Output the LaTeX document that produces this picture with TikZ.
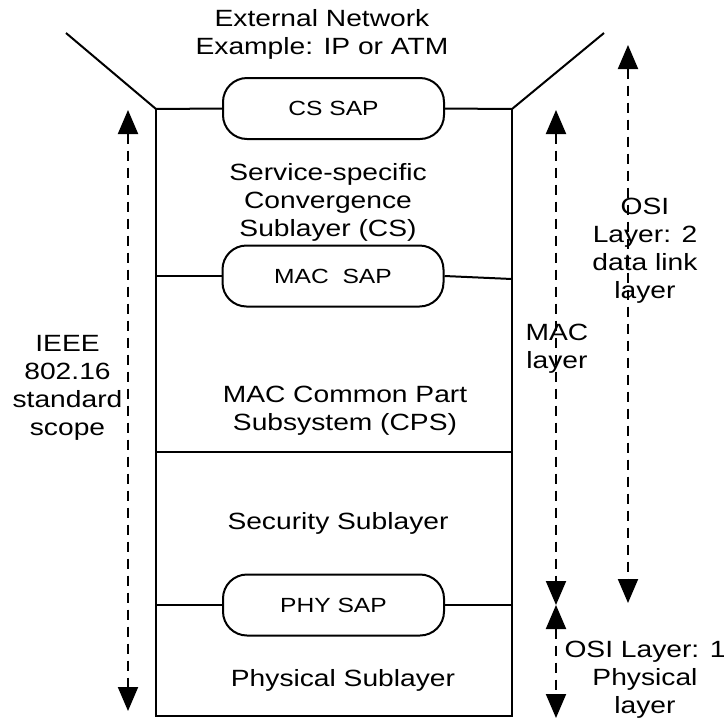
\documentclass[tikz,border=0pt]{standalone}
\usepackage{fontspec}
\setmainfont[FakeStretch=1.2]{Liberation Sans}
\usetikzlibrary{arrows.meta}
\begin{document}
\begin{tikzpicture}[x=1pt,y=-1pt,
  lbl/.style={align=center,font=\fontsize{23.5}{28}\selectfont,inner sep=0pt},
  sap/.style={draw,line width=2pt,rounded corners=24pt,minimum width=221pt,minimum height=61pt,font=\fontsize{20.5}{24}\selectfont},
  wall/.style={line width=2pt},
  dim/.style={line width=2pt,dash pattern=on 10pt off 7pt,{Triangle[length=24pt,width=20pt]}-{Triangle[length=24pt,width=20pt]}},
]
\useasboundingbox (0,0) rectangle (724,724);
% box corners
\coordinate (tl) at (156,109);
\coordinate (tr) at (512,109);
\coordinate (bl) at (156,716);
\coordinate (br) at (512,716);
\coordinate (extL) at (66,33);
\coordinate (extR) at (604,33);
% SAP boxes
\node[sap] (cs) at (333.5,108.5) {CS SAP};
\node[sap] (mac) at (333,276) {MAC\ \ SAP};
\node[sap] (phy) at (333.5,605) {PHY SAP};
\coordinate (macR) at (512,279);
\coordinate (secL) at (156,452);
\coordinate (secR) at (512,452);
% walls
\draw[wall] (extL) -- (tl) -- (cs.west);
\draw[wall] (cs.east) -- (tr) -- (extR);
\draw[wall] (tl) -- (bl) -- (br) -- (tr);
\draw[wall] (mac.west -| tl) -- (mac.west);
\draw[wall] (mac.east) -- (macR);
\draw[wall] (secL) -- (secR);
\draw[wall] (phy.west -| tl) -- (phy.west);
\draw[wall] (phy.east) -- (phy.east -| tr);
% texts
\node[lbl] (ext) at (322,34) {External Network\\Example: IP or ATM};
\node[lbl] (cstxt) at (328,202) {Service-specific\\Convergence\\Sublayer (CS)};
\node[lbl] (cps) at (345,411) {MAC Common Part\\Subsystem (CPS)};
\node[lbl] (sec) at (338,523) {Security Sublayer};
\node[lbl] (phys) at (343,680) {Physical Sublayer};
% dimension arrows
\coordinate (ieeeT) at (128,110);
\coordinate (ieeeB) at (128,711);
\coordinate (macT) at (556,110);
\coordinate (macB) at (556,605);
\coordinate (phT) at (556,605);
\coordinate (phB) at (556,718);
\coordinate (osiT) at (628,45);
\coordinate (osiB) at (628,603);
\draw[dim] (ieeeT) -- (ieeeB);
\draw[dim] (macT) -- (macB);
\draw[dim] (phT) -- (phB);
\draw[dim] (osiT) -- (osiB);
\node[lbl] (ieee) at (67.5,388) {IEEE\\802.16\\standard\\scope};
\node[lbl] (maclay) at (557,349) {MAC\\layer};
\node[lbl] (osi2) at (645,251) {OSI\\Layer: 2\\data link\\layer};
\node[lbl] (osi1) at (645,680) {OSI Layer: 1\\Physical\\layer};
\end{tikzpicture}
\end{document}
